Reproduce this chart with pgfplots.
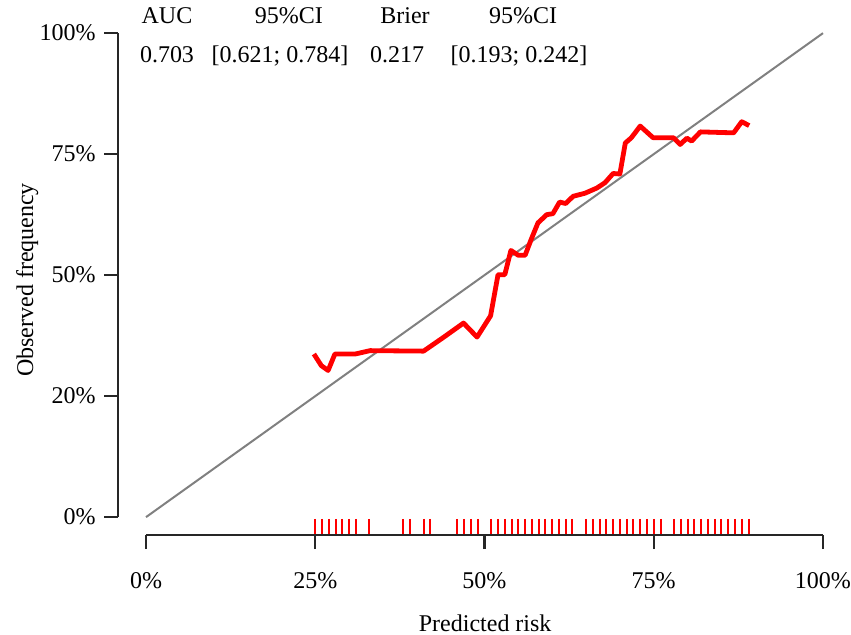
\documentclass[border=0pt]{standalone}
\usepackage{pgfplots}
\pgfplotsset{compat=1.18}
\usepackage{fontspec}
\setmainfont{Liberation Serif}
\definecolor{diag}{RGB}{128,128,128}
\begin{document}
\fontsize{12bp}{14bp}\selectfont
\begin{tikzpicture}
\begin{axis}[
  x=3.385bp, y=2.42bp,
  xmin=0, xmax=100, ymin=0, ymax=100,
  clip=false,
  axis x line*=bottom, axis y line*=left,
  axis x line shift=9bp, axis y line shift=14bp,
  axis line style={line width=1.1bp, black!85},
  tick style={line width=1.1bp, black!85},
  tick align=outside,
  major tick length=7bp,
  xtick={0,25,50,75,100},
  xticklabels={0\%,25\%,50\%,75\%,100\%},
  ytick={0,25,50,75,100},
  yticklabels={0\%,20\%,50\%,75\%,100\%},
  xticklabel style={inner sep=0pt, yshift=-11.5bp},
  yticklabel style={inner sep=0pt, xshift=-4bp},
  xlabel={Predicted risk},
  ylabel={Observed frequency},
  xlabel style={at={(axis cs:50.1,-23.55)}, anchor=base, inner sep=0pt},
  ylabel style={at={(axis cs:-16.69,49)}, anchor=base, rotate=0, inner sep=0pt},
]
\path (axis cs:-21.57,-24.17) rectangle (axis cs:104.14,106.61);
\addplot[diag, line width=1bp, no marks] coordinates {(0,0) (100,100)};
\addplot[red, line width=2.4bp, no marks, line join=round] coordinates {
(24.8,33.7) (25.9,31.3) (26.9,30.3) (27.9,33.7) (30.9,33.7) (33.1,34.4)
(41.0,34.3) (44.0,37.2) (46.9,40.1) (48.9,37.2) (50.9,41.6) (52.0,50.1)
(53.0,50.1) (53.9,55.1) (55.0,54.1) (56.0,54.1) (56.9,57.4) (57.9,60.8)
(59.2,62.5) (60.1,62.7) (61.1,65.1) (62.0,64.8) (63.1,66.3) (64.8,66.9)
(66.6,68.0) (67.8,69.1) (69.0,71.0) (70.0,70.9) (70.8,77.3) (71.7,78.4)
(73.0,80.8) (74.9,78.4) (77.9,78.4) (78.9,77.0) (79.9,78.3) (80.6,77.7)
(81.9,79.6) (86.8,79.4) (88.0,81.7) (89.1,80.9)
};
\addplot[red, only marks, mark=|, mark size=3.8bp, mark options={line width=1bp}] coordinates {
(25,-1.93) (26,-1.93) (27,-1.93) (28,-1.93) (29,-1.93) (30,-1.93) (31,-1.93)
(33,-1.93) (38,-1.93) (39,-1.93) (41,-1.93) (42,-1.93)
(46,-1.93) (47,-1.93) (48,-1.93) (49,-1.93)
(51,-1.93) (52,-1.93) (53,-1.93) (54,-1.93) (55,-1.93) (56,-1.93) (57,-1.93)
(58,-1.93) (59,-1.93) (60,-1.93) (61,-1.93) (62,-1.93) (63,-1.93)
(65,-1.93) (66,-1.93) (67,-1.93) (68,-1.93) (69,-1.93) (70,-1.93) (71,-1.93)
(72,-1.93) (73,-1.93) (74,-1.93) (75,-1.93) (76,-1.93)
(78,-1.93) (79,-1.93) (80,-1.93) (81,-1.93) (82,-1.93) (83,-1.93) (84,-1.93)
(85,-1.93) (86,-1.93) (87,-1.93) (88,-1.93) (89,-1.93)
};
\node[anchor=base] at (axis cs:3.10,101.9) {AUC};
\node[anchor=base] at (axis cs:21.12,101.9) {95\%CI};
\node[anchor=base] at (axis cs:38.26,101.9) {Brier};
\node[anchor=base] at (axis cs:55.69,101.9) {95\%CI};
\node[anchor=base] at (axis cs:3.10,94.0) {0.703};
\node[anchor=base] at (axis cs:19.79,94.0) {[0.621; 0.784]};
\node[anchor=base] at (axis cs:37.08,94.0) {0.217};
\node[anchor=base] at (axis cs:55.10,94.0) {[0.193; 0.242]};
\end{axis}
\end{tikzpicture}
\end{document}
